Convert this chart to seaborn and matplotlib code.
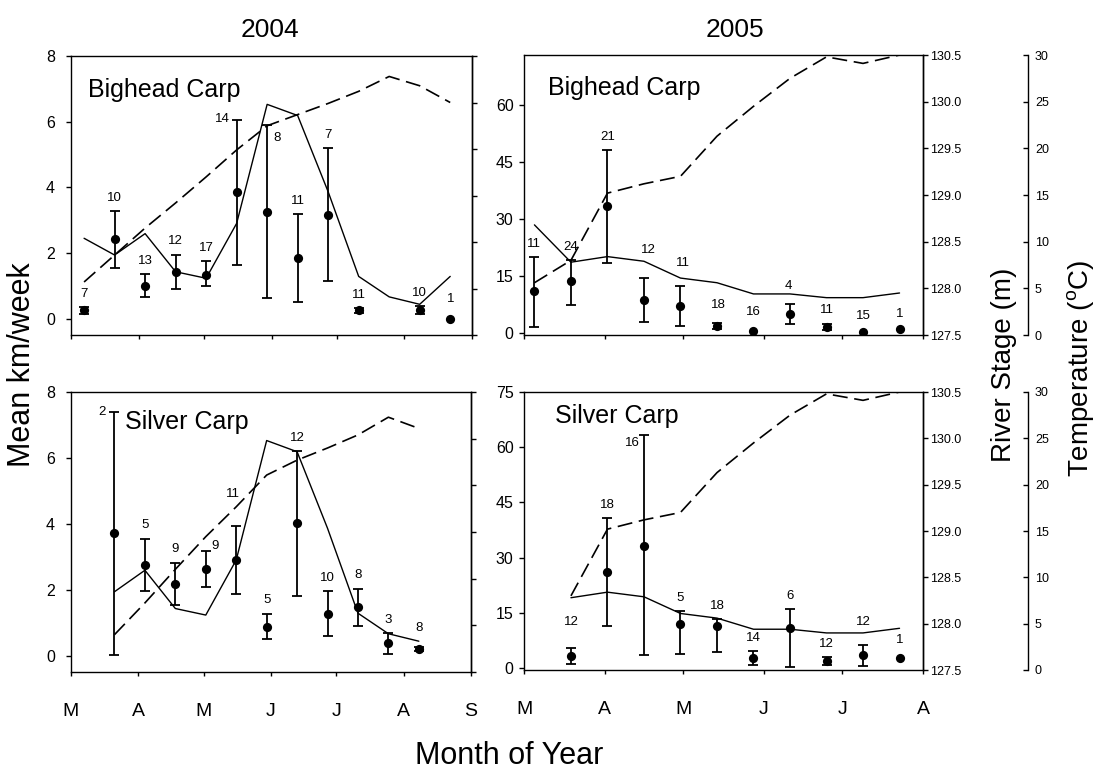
import numpy as np
import pandas as pd
import matplotlib
matplotlib.use("Agg")
import matplotlib.pyplot as plt
import matplotlib.dates as mdates
from matplotlib.ticker import FormatStrFormatter
import seaborn as sns

# ------------------------------------------------------------------ data
# 2004 Bighead Carp (mean km/week, error-bar limits, sample size)
bh04_dates = ["2004-03-07", "2004-03-21", "2004-04-04", "2004-04-18", "2004-05-02", "2004-05-16",
              "2004-05-30", "2004-06-13", "2004-06-27", "2004-07-11", "2004-08-08", "2004-08-22"]
bh04_mean = [0.25, 2.41, 0.98, 1.43, 1.34, 3.85, 3.25, 1.85, 3.17, 0.25, 0.27, 0.00]
bh04_upper = [0.35, 3.27, 1.36, 1.95, 1.74, 6.05, 5.89, 3.19, 5.20, 0.32, 0.39, np.nan]
bh04_lower = [0.15, 1.55, 0.65, 0.91, 0.98, 1.63, 0.62, 0.50, 1.14, 0.18, 0.13, np.nan]
bh04_n = [7, 10, 13, 12, 17, 14, 8, 11, 7, 11, 10, 1]

# 2004 Silver Carp
si04_dates = ["2004-03-21", "2004-04-04", "2004-04-18", "2004-05-02", "2004-05-16", "2004-05-30",
              "2004-06-13", "2004-06-27", "2004-07-11", "2004-07-25", "2004-08-08"]
si04_mean = [3.72, 2.76, 2.18, 2.62, 2.91, 0.88, 4.02, 1.27, 1.47, 0.37, 0.19]
si04_upper = [7.40, 3.55, 2.82, 3.16, 3.93, 1.27, 6.20, 1.95, 2.03, 0.69, 0.25]
si04_lower = [0.02, 1.95, 1.52, 2.08, 1.87, 0.49, 1.82, 0.59, 0.89, 0.05, 0.13]
si04_n = [2, 5, 9, 9, 11, 5, 12, 10, 8, 3, 8]

# 2004 river stage (m) and water temperature (deg C)
stage04_dates = ["2004-03-07", "2004-03-21", "2004-04-04", "2004-04-18", "2004-05-02", "2004-05-16",
                 "2004-05-30", "2004-06-13", "2004-06-27", "2004-07-11", "2004-07-25", "2004-08-08",
                 "2004-08-22"]
stage04 = [128.54, 128.36, 128.59, 128.18, 128.11, 128.70, 129.98, 129.86, 129.04, 128.13,
           127.91, 127.83, 128.13]
temp04_bh = [5.7, 8.6, 11.5, 14.2, 17.0, 19.9, 22.5, 23.7, 24.9, 26.2, 27.8, 26.8, 25.0]
temp04_si = [4.0, 7.4, 11.0, 14.5, 17.7, 21.1, 22.7, 24.0, 25.4, 27.3, 26.1]

# 2005 Bighead Carp
bh05_dates = ["2005-03-05", "2005-03-19", "2005-04-02", "2005-04-16", "2005-04-30", "2005-05-14",
              "2005-05-28", "2005-06-11", "2005-06-25", "2005-07-09", "2005-07-23"]
bh05_mean = [11.0, 13.6, 33.3, 8.6, 7.2, 1.8, 0.6, 5.0, 1.65, 0.35, 1.1]
bh05_upper = [20.0, 19.1, 48.1, 14.5, 12.3, 2.6, np.nan, 7.6, 2.5, np.nan, np.nan]
bh05_lower = [1.65, 7.5, 18.5, 2.8, 1.9, 1.0, np.nan, 2.3, 0.8, np.nan, np.nan]
bh05_n = [11, 24, 21, 12, 11, 18, 16, 4, 11, 15, 1]

# 2005 Silver Carp
si05_dates = ["2005-03-19", "2005-04-02", "2005-04-16", "2005-04-30", "2005-05-14", "2005-05-28",
              "2005-06-11", "2005-06-25", "2005-07-09", "2005-07-23"]
si05_mean = [3.26, 26.2, 33.3, 12.1, 11.4, 2.8, 10.8, 1.9, 3.5, 2.8]
si05_upper = [5.35, 40.8, 63.3, 15.6, 13.3, 4.6, 16.0, 2.9, 6.25, np.nan]
si05_lower = [1.1, 11.5, 3.5, 3.8, 4.4, 0.8, 0.35, 0.8, 0.6, np.nan]
si05_n = [12, 18, 16, 5, 18, 14, 6, 12, 12, 1]

# 2005 river stage and temperature
stage05_dates = bh05_dates
stage05 = [128.68, 128.28, 128.34, 128.29, 128.11, 128.06, 127.94, 127.94, 127.90, 127.90, 127.95]
temp05 = [5.6, 8.0, 15.2, 16.2, 17.0, 21.3, 24.5, 27.5, 29.8, 29.1, 30.0]

month_labels_04 = ["M", "A", "M", "J", "J", "A", "S"]
month_labels_05 = ["M", "A", "M", "J", "J", "A"]

# ------------------------------------------------------------------ style
sns.set_style("ticks")
plt.rcParams["font.family"] = ["Liberation Sans", "DejaVu Sans"]
plt.rcParams["mathtext.fontset"] = "custom"
plt.rcParams["mathtext.rm"] = "Liberation Sans"
plt.rcParams["axes.linewidth"] = 1.0
plt.rcParams["axes.edgecolor"] = "black"
plt.rcParams["text.color"] = "black"
plt.rcParams["axes.labelcolor"] = "black"
plt.rcParams["xtick.color"] = "black"
plt.rcParams["ytick.color"] = "black"

fig = plt.figure(figsize=(10.95, 7.72), dpi=100)
W, H = 1095.0, 772.0


def pos(x0, y0, x1, y1):
    return [x0 / W, 1 - y1 / H, (x1 - x0) / W, (y1 - y0) / H]


def dnum(d):
    return mdates.date2num(pd.to_datetime(d))


# label offsets (points) for labels not placed straight above the bar
offs = {
    ("bh04", 5): (-10, 1), ("bh04", 6): (7, -9.5),
    ("bh05", 3): (3, 20), ("bh05", 4): (1.5, 17), ("bh05", 5): (1, 13), ("bh05", 7): (-1, 13),
    ("bh05", 6): (0, 13.5), ("bh05", 9): (0, 11), ("bh05", 10): (0, 10.5),
    ("si04", 0): (-9, 0), ("si04", 3): (6.5, 4), ("si04", 4): (-2, 23), ("si04", 10): (0, 14),
    ("si05", 0): (0, 19), ("si05", 2): (-8, -5.5), ("si05", 8): (0, 17), ("si05", 9): (0, 13),
    ("bh04", 11): (0, 14),
}

panels = [
    dict(key="bh04", rect=pos(71, 56, 472, 335), d=bh04_dates, m=bh04_mean, lo=bh04_lower,
         up=bh04_upper, n=bh04_n, sd=stage04_dates, sv=stage04, td=stage04_dates, tv=temp04_bh,
         xlim=("2004-03-01", "2004-09-01"), ylim=(-0.5, 8), yt=[0, 2, 4, 6, 8],
         months=month_labels_04, right=False, bottom=False, name="Bighead Carp",
         nxy=(0.042, 0.853)),
    dict(key="bh05", rect=pos(524, 55, 923, 335), d=bh05_dates, m=bh05_mean, lo=bh05_lower,
         up=bh05_upper, n=bh05_n, sd=stage05_dates, sv=stage05, td=stage05_dates, tv=temp05,
         xlim=("2005-03-01", "2005-08-01"), ylim=(-0.5, 73), yt=[0, 15, 30, 45, 60],
         months=month_labels_05, right=True, bottom=False, name="Bighead Carp",
         nxy=(0.061, 0.857)),
    dict(key="si04", rect=pos(71, 392, 471, 672), d=si04_dates, m=si04_mean, lo=si04_lower,
         up=si04_upper, n=si04_n, sd=stage04_dates[1:12], sv=stage04[1:12], td=si04_dates,
         tv=temp04_si, xlim=("2004-03-01", "2004-09-01"), ylim=(-0.5, 8), yt=[0, 2, 4, 6, 8],
         months=month_labels_04, right=False, bottom=True, name="Silver Carp",
         nxy=(0.135, 0.867)),
    dict(key="si05", rect=pos(524, 392, 923, 670), d=si05_dates, m=si05_mean, lo=si05_lower,
         up=si05_upper, n=si05_n, sd=stage05_dates[1:], sv=stage05[1:], td=stage05_dates[1:],
         tv=temp05[1:], xlim=("2005-03-01", "2005-08-01"), ylim=(-0.5, 75),
         yt=[0, 15, 30, 45, 60, 75], months=month_labels_05, right=True, bottom=True,
         name="Silver Carp", nxy=(0.078, 0.887)),
]

for p in panels:
    ax = fig.add_axes(p["rect"])
    ax_st = ax.twinx()
    ax_tp = ax.twinx()

    x = dnum(p["d"])
    m = np.array(p["m"], float)
    up = np.array(p["up"], float)
    lo = np.array(p["lo"], float)

    # river stage (solid) and temperature (dashed)
    sns.lineplot(x=dnum(p["sd"]), y=p["sv"], ax=ax_st, color="black", lw=1.0,
                 errorbar=None, sort=False)
    sns.lineplot(x=dnum(p["td"]), y=p["tv"], ax=ax_tp, color="black", lw=1.2,
                 linestyle=(0, (9, 4)), errorbar=None, sort=False)

    # error bars and mean points
    ax.errorbar(x, m, yerr=[m - lo, up - m], fmt="none", ecolor="black",
                elinewidth=1.3, capsize=3.6, capthick=1.3, zorder=3)
    sns.scatterplot(x=x, y=m, ax=ax, color="black", s=44, linewidth=0, zorder=4)

    for i, (xi, mi, ui, ni) in enumerate(zip(x, m, up, p["n"])):
        top = ui if np.isfinite(ui) else mi
        dx, dy = offs.get((p["key"], i), (0, 9.5 if np.isfinite(ui) else 12))
        ax.annotate(str(ni), xy=(xi, top), xytext=(dx, dy), textcoords="offset points",
                    ha="center", va="center", fontsize=9.5, zorder=5)

    ax.text(p["nxy"][0], p["nxy"][1], p["name"], transform=ax.transAxes, fontsize=18,
            ha="left", va="baseline")

    # axes limits and ticks
    x0, x1 = dnum(p["xlim"][0]), dnum(p["xlim"][1])
    ax.set_xlim(x0, x1)
    mticks = pd.date_range(p["xlim"][0], p["xlim"][1], freq="MS")
    ax.set_xticks(mdates.date2num(mticks))
    ax.set_xticklabels(p["months"] if p["bottom"] else [])
    ax.set_ylim(*p["ylim"])
    ax.set_yticks(p["yt"])
    ax.tick_params(axis="x", direction="out", length=3, width=1, labelsize=14, pad=19)
    ax.tick_params(axis="y", direction="out", length=3.5, width=1, labelsize=11.5,
                   pad=4 if p["right"] else 8)
    ax.set_xlabel("")
    ax.set_ylabel("")
    for s in ax.spines.values():
        s.set_visible(True)
        s.set_linewidth(1.0)

    ax_st.set_ylim(127.5, 130.5)
    ax_st.set_yticks(np.arange(127.5, 130.51, 0.5))
    ax_st.yaxis.set_major_formatter(FormatStrFormatter("%.1f"))
    ax_st.tick_params(axis="y", direction="out", length=3.5, width=1, labelsize=9,
                      pad=1.5, labelright=p["right"])
    ax_st.set_ylabel("")
    for k in ("top", "bottom", "left"):
        ax_st.spines[k].set_visible(False)

    ax_tp.set_ylim(0, 30)
    ax_tp.set_ylabel("")
    if p["right"]:
        ax_tp.spines["right"].set_position(("outward", 75.6))
        for k in ("top", "bottom", "left"):
            ax_tp.spines[k].set_visible(False)
        ax_tp.set_yticks(np.arange(0, 31, 5))
        ax_tp.tick_params(axis="y", direction="in", length=3.5, width=1, labelsize=9, pad=5)
    else:
        ax_tp.set_axis_off()

# titles and axis labels
fig.text(270 / W, 1 - 30 / H, "2004", fontsize=19, ha="center", va="center")
fig.text(735 / W, 1 - 30 / H, "2005", fontsize=19, ha="center", va="center")
fig.text(22 / W, 1 - 365 / H, "Mean km/week", fontsize=22, rotation=90, ha="center", va="center")
fig.text(509 / W, 1 - 756 / H, "Month of Year", fontsize=22, ha="center", va="center")
fig.text(1004 / W, 1 - 365 / H, "River Stage (m)", fontsize=20, rotation=90,
         ha="center", va="center")
fig.text(1080 / W, 1 - 368 / H, r"Temperature ($\mathregular{^{o}}$C)", fontsize=20,
         rotation=90, ha="center", va="center")

fig.savefig("out.png", dpi=100)
